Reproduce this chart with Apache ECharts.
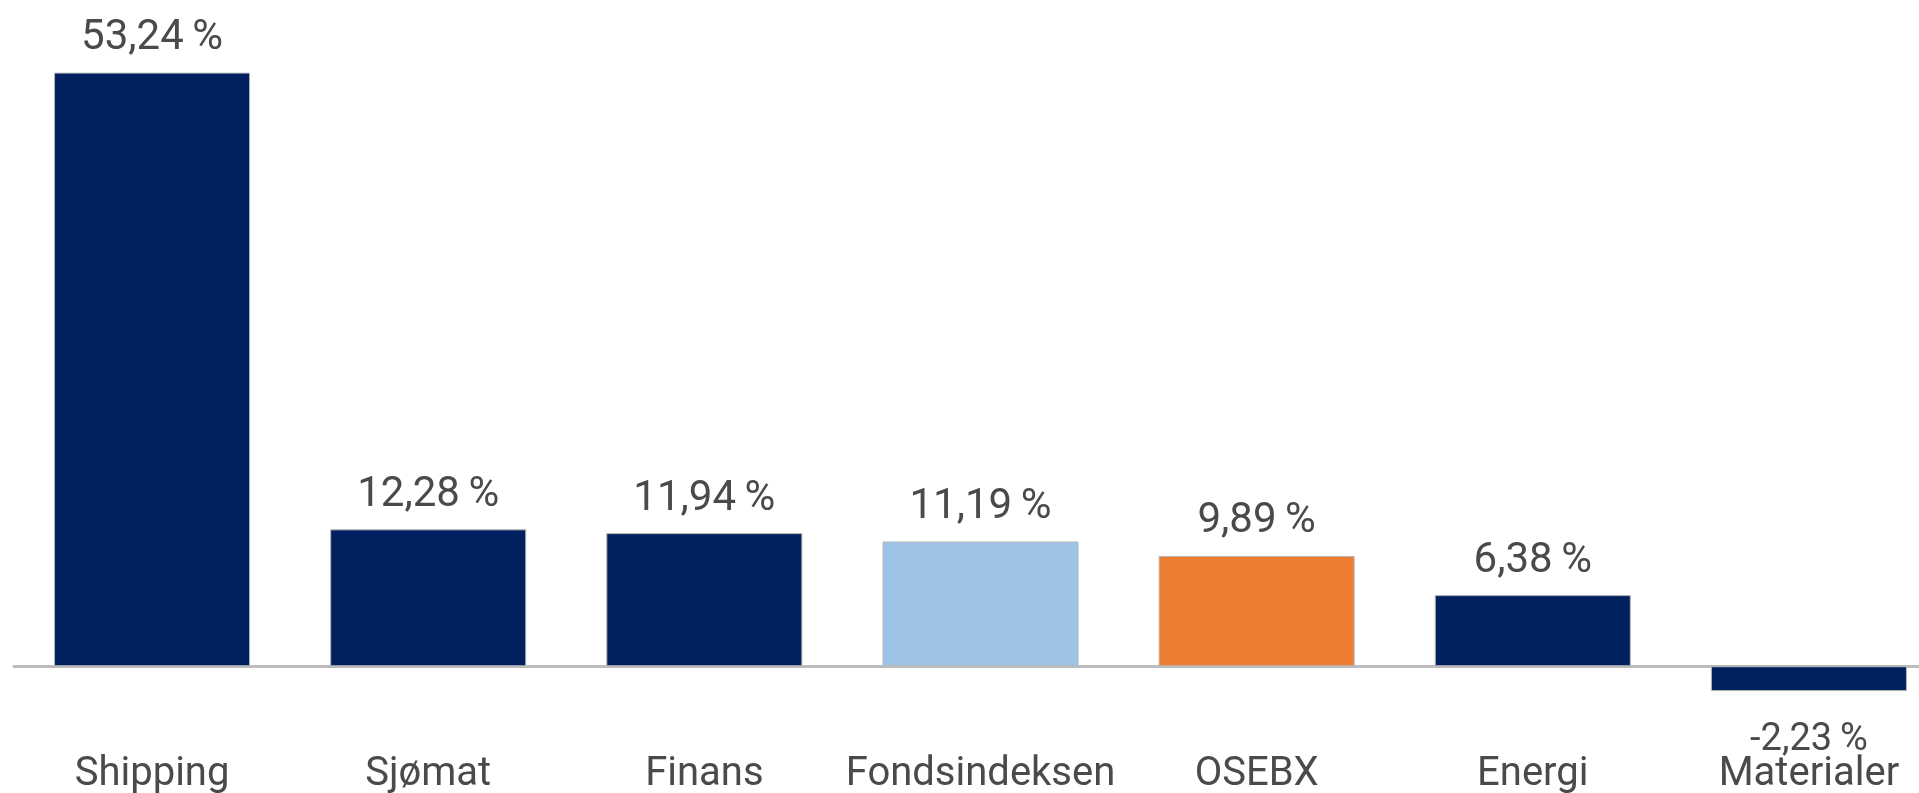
<!DOCTYPE html>
<html>
<head>
<meta charset="utf-8">
<script src="https://cdn.jsdelivr.net/npm/echarts@6/dist/echarts.min.js"></script>
<style>
  html, body { margin: 0; padding: 0; background: #fff; }
  #chart { width: 1919px; height: 793px; }
</style>
</head>
<body>
<div id="chart"></div>
<script>
// data
var categories = ['Shipping', 'Sjømat', 'Finans', 'Fondsindeksen', 'OSEBX', 'Energi', 'Materialer'];
var values = [53.24, 12.28, 11.94, 11.19, 9.89, 6.38, -2.23];

var navy = '#002060';
var specialColors = { 'Fondsindeksen': '#9DC3E6', 'OSEBX': '#ED7D31' };
var textFont = 'Roboto';

var myChart = echarts.init(document.getElementById('chart'));

var seriesData = [];
for (var i = 0; i < values.length; i++) {
    var item = {
        value: values[i],
        itemStyle: { color: specialColors[categories[i]] || navy }
    };
    if (values[i] < 0) {
        // negative value: label sits under the bar
        item.label = { position: 'bottom', distance: 30, fontSize: 38, lineHeight: 38 };
    }
    seriesData.push(item);
}

var option = {
    animation: false,
    grid: { left: 14, right: -28, top: 53, bottom: 71, outerBoundsMode: 'none', containLabel: false },
    xAxis: {
        type: 'category',
        data: categories,
        axisLine: { show: true, onZero: true, lineStyle: { color: '#bdbdbd', width: 3 } },
        axisTick: { show: false },
        axisLabel: {
            interval: 0,
            margin: 33,
            fontFamily: textFont,
            fontSize: 40,
            lineHeight: 40,
            color: '#4a4a4a'
        }
    },
    yAxis: {
        type: 'value',
        min: -5,
        max: 55,
        show: false,
        splitLine: { show: false }
    },
    series: [{
        type: 'bar',
        data: seriesData,
        barCategoryGap: '29%',
        itemStyle: { borderColor: '#b8b8b8', borderWidth: 1 },
        label: {
            show: true,
            position: 'top',
            distance: 13,
            fontFamily: textFont,
            fontSize: 42,
            lineHeight: 42,
            color: '#4a4a4a',
            formatter: function (p) {
                return p.value.toFixed(2).replace('.', ',') + '\u2009%';
            }
        }
    }]
};
myChart.setOption(option);
</script>
</body>
</html>
